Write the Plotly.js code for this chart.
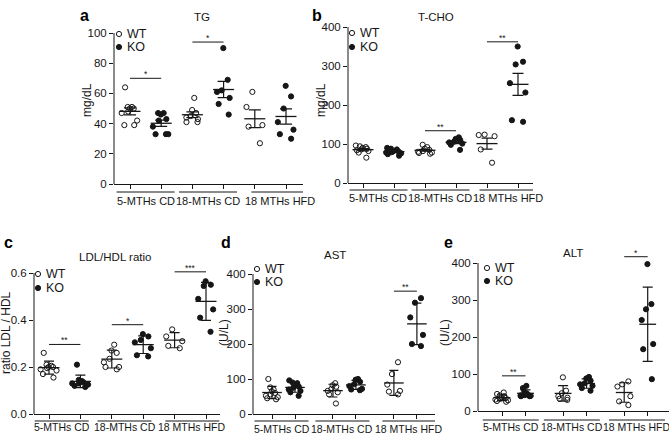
<!DOCTYPE html>
<html><head><meta charset="utf-8">
<script src="https://cdn.plot.ly/plotly-3.0.1.min.js"></script>
<style>html,body{margin:0;padding:0;background:#fff}#chart{width:669px;height:434px}</style>
</head><body><div id="chart"></div>
<script>
const W = 669, H = 434;
const groupLabels = ['5-MTHs CD', '18-MTHs CD', '18 MTHs HFD'];
const seriesNames = ['WT', 'KO'];

// a: TG (mg/dL)  order: WT 5m, KO 5m, WT 18m, KO 18m, WT HFD, KO HFD
const tg_wt_5m  = [64, 51, 50, 50, 51, 48, 47, 42, 39, 39];
const tg_ko_5m  = [47, 47, 46, 43, 42, 38, 33, 33, 33];
const tg_wt_18m = [57, 49, 47, 45, 44, 43, 41, 41];
const tg_ko_18m = [90, 69, 62, 61, 57, 53, 46];
const tg_wt_hfd = [61, 51, 39, 38, 27];
const tg_ko_hfd = [65, 58, 50, 41, 36, 33, 30];
const tg_sig_groups = [0, 1];
const tg_sig_y = [70, 94];
const tg_sig_text = ['*', '*'];

// b: T-CHO (mg/dL)
const tc_wt_5m  = [96, 94, 92, 90, 88, 86, 84, 82, 78, 65];
const tc_ko_5m  = [90, 88, 86, 82, 80, 79, 78, 76, 74, 70];
const tc_wt_18m = [98, 92, 88, 85, 82, 80, 78, 77, 75];
const tc_ko_18m = [117, 113, 110, 106, 104, 101, 98, 85];
const tc_wt_hfd = [124, 123, 120, 86, 52];
const tc_ko_hfd = [350, 311, 304, 256, 232, 161, 157];
const tc_sig_groups = [1, 2];
const tc_sig_y = [134, 362];
const tc_sig_text = ['**', '**'];

// c: LDL/HDL ratio
const lh_wt_5m  = [0.26, 0.21, 0.205, 0.2, 0.2, 0.195, 0.19, 0.185, 0.17, 0.155];
const lh_ko_5m  = [0.21, 0.145, 0.14, 0.14, 0.135, 0.13, 0.13, 0.125, 0.12, 0.115];
const lh_wt_18m = [0.295, 0.27, 0.26, 0.235, 0.22, 0.2, 0.2, 0.19];
const lh_ko_18m = [0.34, 0.33, 0.315, 0.305, 0.28, 0.25, 0.245];
const lh_wt_hfd = [0.36, 0.33, 0.31, 0.29, 0.28];
const lh_ko_hfd = [0.565, 0.55, 0.545, 0.49, 0.445, 0.41, 0.35];
const lh_sig_groups = [0, 1, 2];
const lh_sig_y = [0.296, 0.38, 0.605];
const lh_sig_text = ['**', '*', '***'];

// d: AST (U/L)
const ast_wt_5m  = [100, 76, 70, 65, 60, 56, 52, 48, 45, 42];
const ast_ko_5m  = [96, 90, 88, 82, 78, 75, 70, 66, 62, 52];
const ast_wt_18m = [88, 82, 78, 72, 66, 62, 56, 30];
const ast_ko_18m = [100, 98, 92, 85, 80, 72, 70, 68];
const ast_wt_hfd = [148, 114, 84, 66, 64, 56];
const ast_ko_hfd = [331, 318, 276, 226, 200, 194];
const ast_sig_groups = [2];
const ast_sig_y = [351];
const ast_sig_text = ['**'];

// e: ALT (U/L)
const alt_wt_5m  = [50, 46, 42, 40, 37, 35, 33, 31, 29, 27, 25];
const alt_ko_5m  = [68, 62, 52, 48, 46, 44, 43, 42, 41, 40, 40];
const alt_wt_18m = [91, 55, 48, 40, 36, 33, 30];
const alt_ko_18m = [92, 88, 82, 75, 72, 68, 62, 55];
const alt_wt_hfd = [80, 72, 66, 40, 26, 16];
const alt_ko_hfd = [397, 289, 275, 246, 181, 167, 86];
const alt_sig_groups = [0, 2];
const alt_sig_y = [95, 417];
const alt_sig_text = ['**', '*'];

const yTicks_tg = [0, 20, 40, 60, 80, 100];
const yTicks_tc = [0, 100, 200, 300, 400];
const yTicks_lh = [0, 0.2, 0.4, 0.6];
const yTicks_ast = [0, 100, 200, 300, 400];
const yTicks_alt = [0, 100, 200, 300, 400];

// ---------- layout / geometry (pixels) ----------
const FONT = 'Liberation Sans, Arial, Helvetica, sans-serif';
const INK = '#161616';
const fx = p => p / W;
const fy = p => 1 - p / H;

const panels = [
  { letter: 'a', title: 'TG', ytitle: 'mg/dL', data: [tg_wt_5m, tg_ko_5m, tg_wt_18m, tg_ko_18m, tg_wt_hfd, tg_ko_hfd],
    err: 'sem', ticks: yTicks_tg, tickfmt: '', yrange: [0, 100], ytop: 100,
    sigG: tg_sig_groups, sigY: tg_sig_y, sigT: tg_sig_text,
    xpx: [114, 303], y0px: 184, ytopPx: 33, firstTick: 130, unit: 31.2, pos: [0, 1, 2, 3, 4, 5],
    letterPos: [84, 16], titlePos: [202, 17], ytitlePos: [87, 100],
    legPos: [119, 34, 47], overY: 192, labY: 201, labOff: [0, 0, 10], labSize: 11, overHalf: 29, boxW: 0.7, jit: 0.9, meanSize: 15, cap: 6 },
  { letter: 'b', title: 'T-CHO', ytitle: 'mg/dL', data: [tc_wt_5m, tc_ko_5m, tc_wt_18m, tc_ko_18m, tc_wt_hfd, tc_ko_hfd],
    err: 'sem', ticks: yTicks_tc, tickfmt: '', yrange: [0, 400], ytop: 400,
    sigG: tc_sig_groups, sigY: tc_sig_y, sigT: tc_sig_text,
    xpx: [348, 533], y0px: 183, ytopPx: 27, firstTick: 363, unit: 31, pos: [0, 1, 2, 3, 4, 5],
    letterPos: [317, 16], titlePos: [436, 17], ytitlePos: [321, 100],
    legPos: [352, 33, 47], overY: 190, labY: 198, labOff: [0, 0, 6], labSize: 11, overHalf: 29, boxW: 0.7, jit: 0.9, meanSize: 15, cap: 5.5 },
  { letter: 'c', title: 'LDL/HDL ratio', ytitle: 'ratio LDL / HDL', data: [lh_wt_5m, lh_ko_5m, lh_wt_18m, lh_ko_18m, lh_wt_hfd, lh_ko_hfd],
    err: 'sd', ticks: yTicks_lh, tickfmt: '.1f', yrange: [0, 0.62], ytop: 0.6,
    sigG: lh_sig_groups, sigY: lh_sig_y, sigT: lh_sig_text,
    xpx: [34, 220], y0px: 414, ytopPx: 273, firstTick: 49, unit: 31.4, pos: [0, 1, 2, 3, 4, 5],
    letterPos: [8, 242], titlePos: [115, 257], ytitlePos: [6, 333],
    legPos: [38, 274, 288], overY: 421, labY: 427, labOff: [-3, -3, 2], labSize: 10.5, overHalf: 27, boxW: 0.7, jit: 0.9, meanSize: 15, cap: 5 },
  { letter: 'd', title: 'AST', ytitle: '(U/L)', data: [ast_wt_5m, ast_ko_5m, ast_wt_18m, ast_ko_18m, ast_wt_hfd, ast_ko_hfd],
    err: 'sd', ticks: yTicks_ast, tickfmt: '', yrange: [0, 400], ytop: 400,
    sigG: ast_sig_groups, sigY: ast_sig_y, sigT: ast_sig_text,
    xpx: [253, 435], y0px: 414, ytopPx: 274, firstTick: 272, unit: 23, pos: [0, 1, 2.65, 3.65, 5.3, 6.3],
    letterPos: [226, 242], titlePos: [335, 255], ytitlePos: [224, 333],
    legPos: [257, 269, 282], overY: 421, labY: 429, labOff: [-2, -2, 4], labSize: 10.5, overHalf: 27, boxW: 0.8, jit: 0.85, meanSize: 14, cap: 4.5 },
  { letter: 'e', title: 'ALT', ytitle: '(U/L)', data: [alt_wt_5m, alt_ko_5m, alt_wt_18m, alt_ko_18m, alt_wt_hfd, alt_ko_hfd],
    err: 'sd', ticks: yTicks_alt, tickfmt: '', yrange: [0, 430], ytop: 400,
    sigG: alt_sig_groups, sigY: alt_sig_y, sigT: alt_sig_text,
    xpx: [478, 669], y0px: 411, ytopPx: 263, firstTick: 502, unit: 23.5, pos: [0, 1, 2.6, 3.6, 5.2, 6.2],
    letterPos: [448, 242], titlePos: [573, 253], ytitlePos: [445, 333],
    legPos: [487, 268, 281], overY: 420, labY: 427, labOff: [-3, -3, 1], labSize: 10.5, overHalf: 28, boxW: 0.8, jit: 0.85, meanSize: 12, cap: 5 }
];

function mean(a) { return a.reduce((s, v) => s + v, 0) / a.length; }
function sd(a) { const m = mean(a); return Math.sqrt(a.reduce((s, v) => s + (v - m) * (v - m), 0) / (a.length - 1)); }

const traces = [];
const layout = {
  width: W, height: H, margin: { l: 0, r: 0, t: 0, b: 0 },
  paper_bgcolor: '#fff', plot_bgcolor: 'rgba(0,0,0,0)', showlegend: false,
  font: { family: FONT, size: 11, color: INK },
  shapes: [], annotations: []
};

panels.forEach((p, i) => {
  const n = i === 0 ? '' : String(i + 1);
  const xa = 'x' + n, ya = 'y' + n;
  const yr = p.yrange;
  const pxPerY = (p.y0px - p.ytopPx) / (p.ytop - yr[0]);
  const topPx = p.y0px - (yr[1] - yr[0]) * pxPerY;
  const xr = [(p.xpx[0] - p.firstTick) / p.unit, (p.xpx[1] - p.firstTick) / p.unit];

  layout['xaxis' + n] = {
    domain: [fx(p.xpx[0]), Math.min(1, fx(p.xpx[1]))], range: xr, type: 'linear', anchor: ya,
    showline: true, linecolor: INK, linewidth: 1, showgrid: false, zeroline: false,
    tickvals: p.pos, ticktext: p.pos.map(() => ''), ticks: 'outside', ticklen: 4, tickwidth: 1, tickcolor: INK,
    showticklabels: false, fixedrange: true
  };
  layout['yaxis' + n] = {
    domain: [fy(p.y0px), fy(topPx)], range: yr, type: 'linear', anchor: xa,
    showline: false, showgrid: false, zeroline: false,
    tickvals: p.ticks, tickformat: p.tickfmt, ticks: 'outside', ticklen: 4, tickwidth: 1, tickcolor: INK,
    tickfont: { size: 11.5, color: INK }, fixedrange: true
  };
  // y axis line up to top tick
  layout.shapes.push({ type: 'line', xref: xa + ' domain', yref: ya, x0: 0, x1: 0, y0: yr[0], y1: p.ytop,
    line: { color: INK, width: 1 } });

  // points
  p.data.forEach((vals, g) => {
    const ko = g % 2 === 1;
    traces.push({
      type: 'box', xaxis: xa, yaxis: ya, x0: p.pos[g], y: vals, width: p.boxW,
      boxpoints: 'all', jitter: p.jit, pointpos: 0, whiskerwidth: 0,
      fillcolor: 'rgba(0,0,0,0)', line: { width: 0, color: 'rgba(0,0,0,0)' },
      marker: { symbol: ko ? 'circle' : 'circle-open', size: 5.2, color: INK, line: { width: 1, color: INK } },
      hoverinfo: 'skip', showlegend: false
    });
  });

  // mean + error
  const means = p.data.map(mean);
  const errs = p.data.map(a => p.err === 'sem' ? sd(a) / Math.sqrt(a.length) : sd(a));
  traces.push({
    type: 'scatter', mode: 'markers', xaxis: xa, yaxis: ya, x: p.pos, y: means,
    marker: { symbol: 'line-ew-open', size: p.meanSize, color: INK, line: { width: 1.3, color: INK } },
    error_y: { type: 'data', array: errs, visible: true, width: p.cap, thickness: 1.2, color: INK },
    hoverinfo: 'skip', showlegend: false
  });

  // significance bars
  p.sigG.forEach((g, k) => {
    traces.push({ type: 'scatter', mode: 'lines', xaxis: xa, yaxis: ya,
      x: [p.pos[2 * g], p.pos[2 * g + 1]], y: [p.sigY[k], p.sigY[k]],
      line: { color: INK, width: 1 }, hoverinfo: 'skip', showlegend: false });
    layout.annotations.push({ xref: xa, yref: ya, x: (p.pos[2 * g] + p.pos[2 * g + 1]) / 2, y: p.sigY[k],
      text: p.sigT[k], showarrow: false, yanchor: 'bottom', yshift: -3, font: { size: 8.5, color: INK } });
  });

  // group labels with overlines
  groupLabels.forEach((lab, g) => {
    const c = (p.pos[2 * g] + p.pos[2 * g + 1]) / 2 + p.labOff[g] / p.unit;
    const h = p.overHalf / p.unit;
    layout.shapes.push({ type: 'line', xref: xa, yref: 'paper', x0: c - h, x1: c + h, y0: fy(p.overY), y1: fy(p.overY),
      line: { color: INK, width: 1 } });
    layout.annotations.push({ xref: xa, yref: 'paper', x: c, y: fy(p.labY), text: lab, showarrow: false,
      xanchor: 'center', yanchor: 'middle', font: { size: p.labSize, color: INK } });
  });

  // panel letter, title, y title
  layout.annotations.push({ xref: 'paper', yref: 'paper', x: fx(p.letterPos[0]), y: fy(p.letterPos[1]),
    text: '<b>' + p.letter + '</b>', showarrow: false, xanchor: 'center', yanchor: 'middle',
    font: { size: 16, color: '#000', family: FONT } });
  layout.annotations.push({ xref: 'paper', yref: 'paper', x: fx(p.titlePos[0]), y: fy(p.titlePos[1]),
    text: p.title, showarrow: false, xanchor: 'center', yanchor: 'middle', font: { size: 11.5, color: INK } });
  layout.annotations.push({ xref: 'paper', yref: 'paper', x: fx(p.ytitlePos[0]), y: fy(p.ytitlePos[1]),
    text: p.ytitle, textangle: -90, showarrow: false, xanchor: 'center', yanchor: 'middle', font: { size: 12, color: INK } });

  // legend
  [0, 1].forEach(s => {
    const yy = fy(p.legPos[1 + s]);
    layout.shapes.push({ type: 'circle', xref: 'paper', yref: 'paper', xsizemode: 'pixel', ysizemode: 'pixel',
      xanchor: fx(p.legPos[0]), yanchor: yy, x0: -2.6, x1: 2.6, y0: -2.6, y1: 2.6,
      fillcolor: s ? INK : '#fff', line: { color: INK, width: 1 } });
    layout.annotations.push({ xref: 'paper', yref: 'paper', x: fx(p.legPos[0] + 6), y: yy, text: seriesNames[s],
      showarrow: false, xanchor: 'left', yanchor: 'middle', font: { size: 12.5, color: INK } });
  });
});

Plotly.newPlot('chart', traces, layout, { staticPlot: true, displayModeBar: false });
</script></body></html>
